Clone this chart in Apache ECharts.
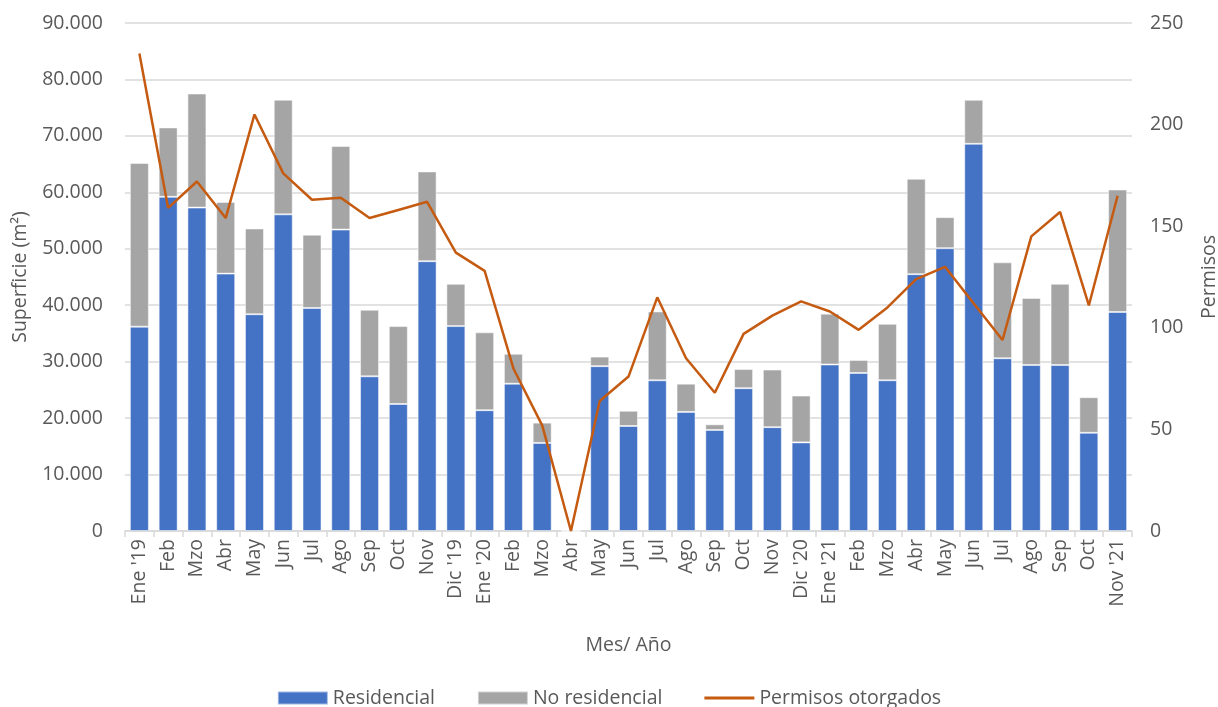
<!DOCTYPE html>
<html>
<head>
<meta charset="utf-8">
<script src="https://cdn.jsdelivr.net/npm/echarts@6/dist/echarts.min.js"></script>
<style>
  html, body { margin: 0; padding: 0; background: #fff; }
  #chart { width: 1218px; height: 707px; }
</style>
</head>
<body>
<div id="chart"></div>
<script>
var meses = ["Ene '19","Feb","Mzo","Abr","May","Jun","Jul","Ago","Sep","Oct","Nov","Dic '19",
             "Ene '20","Feb","Mzo","Abr","May","Jun","Jul","Ago","Sep","Oct","Nov","Dic '20",
             "Ene '21","Feb","Mzo","Abr","May","Jun","Jul","Ago","Sep","Oct","Nov '21"];
var residencial = [36200,59200,57300,45600,38400,56100,39500,53400,27400,22500,47800,36300,
                   21400,26100,15600,0,29200,18600,26700,21100,17900,25300,18400,15700,
                   29500,28000,26700,45500,50100,68600,30600,29400,29400,17400,38800];
var noResidencial = [29000,12300,20200,12700,15200,20300,13000,14800,11800,13800,15900,7500,
                     13800,5300,3600,0,1700,2700,12200,5000,1000,3400,10200,8300,
                     9000,2300,10000,16900,5500,7800,17000,11900,14400,6300,21700];
var permisos = [235,159,172,154,205,176,163,164,154,158,162,137,
                128,80,52,0,64,76,115,85,68,97,106,113,
                108,99,110,124,130,112,94,145,157,111,165];

var txt = '#595959';
var fuente = 'Open Sans';
var fs = 19.5;

var myChart = echarts.init(document.getElementById('chart'));
var option = {
    animation: false,
    textStyle: { fontFamily: fuente },
    grid: { left: 125, right: 86, top: 23, bottom: 176, outerBoundsMode: 'none' },
    legend: {
        bottom: -6,
        left: 'center',
        itemGap: 42,
        itemWidth: 50,
        itemHeight: 13,
        textStyle: { color: txt, fontSize: fs, fontFamily: fuente },
        data: [
            { name: 'Residencial', icon: 'rect' },
            { name: 'No residencial', icon: 'rect' },
            { name: 'Permisos otorgados', icon: 'path://M0,0 L0,0 M50,13 L50,13 M0,5 L50,5 L50,8 L0,8 Z' }
        ]
    },
    xAxis: {
        type: 'category',
        data: meses,
        name: 'Mes/ Año',
        nameLocation: 'middle',
        nameGap: 104,
        nameTextStyle: { color: txt, fontSize: fs },
        axisLine: { lineStyle: { color: '#d9d9d9', width: 1.5 } },
        axisTick: { show: true, length: 6, lineStyle: { color: '#d9d9d9', width: 1.5 } },
        axisLabel: { rotate: 90, color: txt, fontSize: fs, interval: 0, margin: 8 }
    },
    yAxis: [{
        type: 'value',
        min: 0,
        max: 90000,
        interval: 10000,
        name: 'Superficie (m²)',
        nameLocation: 'middle',
        nameGap: 95,
        nameTextStyle: { color: txt, fontSize: fs },
        axisLabel: {
            color: txt, fontSize: fs, margin: 22,
            formatter: function (v) { return String(v).replace(/\B(?=(\d{3})+(?!\d))/g, '.'); }
        },
        splitLine: { lineStyle: { color: '#d9d9d9', width: 1.5 } }
    }, {
        type: 'value',
        min: 0,
        max: 250,
        interval: 50,
        name: 'Permisos',
        nameLocation: 'middle',
        nameGap: 67,
        nameTextStyle: { color: txt, fontSize: fs },
        axisLabel: { color: txt, fontSize: fs, margin: 18 },
        splitLine: { show: false }
    }],
    series: [{
        name: 'Residencial',
        type: 'bar',
        stack: 'sup',
        barWidth: 19,
        itemStyle: { color: '#4472c4', borderColor: 'rgba(255,255,255,0.5)', borderWidth: 1 },
        data: residencial
    }, {
        name: 'No residencial',
        type: 'bar',
        stack: 'sup',
        barWidth: 19,
        itemStyle: { color: '#a5a5a5', borderColor: 'rgba(255,255,255,0.5)', borderWidth: 1 },
        data: noResidencial
    }, {
        name: 'Permisos otorgados',
        type: 'line',
        yAxisIndex: 1,
        symbol: 'none',
        z: 5,
        lineStyle: { color: '#c55a11', width: 2.5 },
        itemStyle: { color: '#c55a11' },
        data: permisos
    }]
};
myChart.setOption(option);
</script>
</body>
</html>
